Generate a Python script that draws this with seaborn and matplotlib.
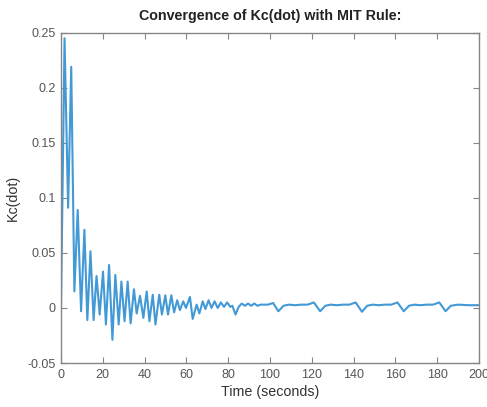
import matplotlib
matplotlib.use("Agg")
import matplotlib.pyplot as plt
import seaborn as sns
import pandas as pd
from matplotlib.ticker import FuncFormatter

# ---- data ----
time_s = [0.0, 1.7, 3.4, 4.9, 6.4, 8.0, 9.6, 11.2, 12.6, 14.1, 15.6, 17.0, 18.5,
          20.1, 21.5, 23.0, 24.6, 26.0, 27.6, 28.9, 30.4, 31.9, 33.3, 34.9, 36.2,
          37.8, 39.4, 41.0, 42.3, 43.9, 45.2, 47.0, 48.3, 49.9, 51.2, 52.8, 54.1,
          55.6, 56.9, 58.5, 59.8, 61.7, 63.0, 64.9, 66.2, 67.8, 69.1, 70.6, 72.0,
          73.5, 75.0, 76.5, 78.0, 79.5, 81.0, 82.0, 83.5, 85.0, 86.5, 88.0, 89.5,
          91.0, 92.5, 94.0, 95.5, 97.0, 99.0, 101.5, 104.0, 106.5, 109.0, 112.0,
          115.0, 118.0, 121.0, 124.0, 126.5, 129.0, 132.0, 135.0, 138.0, 141.0,
          144.0, 146.5, 149.0, 152.0, 155.0, 158.0, 161.0, 164.0, 166.5, 169.0,
          172.0, 175.0, 178.0, 181.0, 184.0, 186.5, 190.0, 195.0, 200.0]
kc_dot = [0.0, 0.245, 0.091, 0.219, 0.015, 0.089, -0.003, 0.071, -0.011, 0.0515,
          -0.011, 0.029, -0.006, 0.033, -0.015, 0.039, -0.029, 0.030, -0.015, 0.024,
          -0.012, 0.024, -0.014, 0.017, -0.005, 0.011, -0.009, 0.015, -0.012, 0.012,
          -0.015, 0.012, -0.006, 0.0115, -0.006, 0.0115, -0.004, 0.007, -0.002,
          0.006, 0.000, 0.010, -0.010, 0.003, -0.005, 0.006, -0.001, 0.007, 0.000,
          0.006, 0.000, 0.005, 0.001, 0.005, 0.001, 0.002, -0.006, 0.001, 0.004,
          0.002, 0.004, 0.002, 0.004, 0.002, 0.003, 0.003, 0.003, 0.0045, -0.003,
          0.002, 0.003, 0.0025, 0.003, 0.003, 0.005, -0.003, 0.002, 0.003, 0.0025,
          0.003, 0.003, 0.005, -0.0035, 0.002, 0.003, 0.0025, 0.003, 0.003, 0.005,
          -0.003, 0.002, 0.003, 0.0025, 0.003, 0.003, 0.005, -0.003, 0.002, 0.003,
          0.0025, 0.0025]
x_ticks = [0, 20, 40, 60, 80, 100, 120, 140, 160, 180, 200]
y_ticks = [-0.05, 0, 0.05, 0.1, 0.15, 0.2, 0.25]
title_text = "Convergence of Kc(dot) with MIT Rule:"
x_label = "Time (seconds)"
y_label = "Kc(dot)"

df = pd.DataFrame({"t": time_s, "k": kc_dot})

sns.set_theme(style="white")
plt.rcParams["font.family"] = ["Liberation Sans", "DejaVu Sans"]

fig = plt.figure(figsize=(4.87, 4.07), dpi=100)
ax = fig.add_axes([61 / 487, 1 - 363 / 407, (479 - 61) / 487, (363 - 32.7) / 407])

sns.lineplot(data=df, x="t", y="k", ax=ax, sort=False, color="#4299d6",
             linewidth=1.5, estimator=None)

ax.set_xlim(0, 200)
ax.set_ylim(-0.05, 0.25)
ax.set_xticks(x_ticks)
ax.set_yticks(y_ticks)
ax.xaxis.set_major_formatter(FuncFormatter(lambda v, p: f"{v:g}"))
ax.yaxis.set_major_formatter(FuncFormatter(lambda v, p: f"{v:g}".replace("\u2212", "-")))

grey = "#555555"
for s in ax.spines.values():
    s.set_visible(True)
    s.set_color("#858585")
    s.set_linewidth(1.0)
ax.tick_params(direction="in", length=4, width=0.8, colors="#858585",
               labelcolor=grey, labelsize=9, top=True, right=True,
               bottom=True, left=True, pad=4)

ax.set_title(title_text, fontsize=10.3, fontweight="bold", color="#222222", pad=9)
ax.set_xlabel(x_label, fontsize=10.3, color="#333333", labelpad=3)
ax.set_ylabel(y_label, fontsize=10.3, color="#333333", labelpad=5)

fig.savefig("out.png", dpi=100)
